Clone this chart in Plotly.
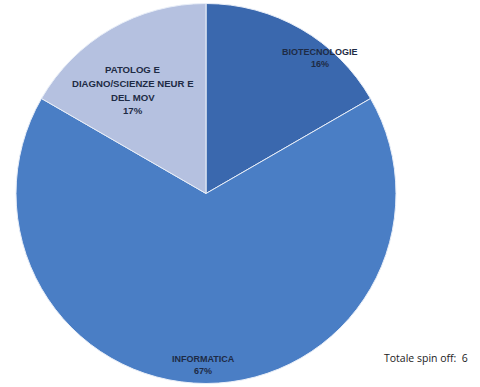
import plotly.graph_objects as go

categories = ["BIOTECNOLOGIE", "INFORMATICA", "PATOLOG E<br>DIAGNO/SCIENZE NEUR E<br>DEL MOV"]
counts = [1, 4, 1]
pct_labels = ["16%", "67%", "17%"]
colors = ["#3A68AE", "#4A7EC5", "#B5C1E0"]
total_label = "Totale spin off:  6"

W, H = 480, 387

fig = go.Figure(go.Pie(
    labels=[c.replace("<br>", " ") for c in categories],
    values=counts,
    sort=False,
    direction="clockwise",
    rotation=0,
    marker=dict(colors=colors, line=dict(color="#E8EEF8", width=1)),
    textinfo="none",
    hoverinfo="label+percent",
    domain=dict(x=[16/W, 396/W], y=[3/H, 384/H]),
    showlegend=False,
))

# label placement (pixel centre of first line, line spacing, font size)
label_style = [(320, 52, 11.5, 9), (203, 359, 11.5, 9), (133, 70, 13.5, 9.6)]
for (cx, y0, dy, fs), cat, pct in zip(label_style, categories, pct_labels):
    lines = cat.split("<br>") + [pct]
    for i, line in enumerate(lines):
        fig.add_annotation(
            x=cx/W, y=1 - (y0 + i*dy)/H, xref="paper", yref="paper",
            xanchor="center", yanchor="middle",
            text=f"<b>{line}</b>", showarrow=False,
            font=dict(family="Liberation Sans, Arial, sans-serif", size=fs, color="#1E2B45"),
        )

fig.add_annotation(
    x=470/W, y=1 - 358/H, xref="paper", yref="paper", xanchor="right", yanchor="middle",
    text=total_label, showarrow=False,
    font=dict(family="Open Sans, Liberation Sans, sans-serif", size=10.5, color="#222222"),
)

fig.update_layout(
    width=W, height=H,
    margin=dict(l=0, r=0, t=0, b=0),
    paper_bgcolor="white", plot_bgcolor="white",
)
fig.write_html("out.html", config={"displayModeBar": False},
               post_script="document.body.style.margin='0';document.body.style.overflow='hidden';")
